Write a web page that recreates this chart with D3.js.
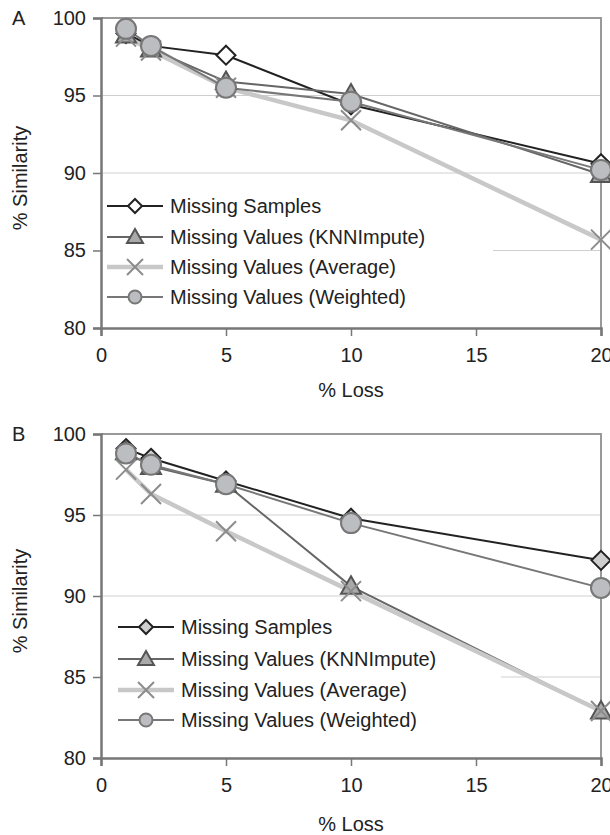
<!DOCTYPE html>
<html>
<head>
<meta charset="utf-8">
<script src="https://cdn.jsdelivr.net/npm/d3@7"></script>
<style>
  body { margin: 0; background: #fff; }
  text { font-family: "Liberation Sans", Arial, sans-serif; fill: #222; }
</style>
</head>
<body>
<div id="chart"></div>
<script>
// % Loss values on the x axis
var loss = [1, 2, 5, 10, 20];
var seriesNames = ["Missing Samples", "Missing Values (KNNImpute)", "Missing Values (Average)", "Missing Values (Weighted)"];
var xTicks = [0, 5, 10, 15, 20];
var yTicks = [80, 85, 90, 95, 100];

// panel A
var aSamples  = [99.0, 98.2, 97.6, 94.4, 90.6];
var aKnn      = [98.9, 98.0, 95.9, 95.1, 89.9];
var aAverage  = [98.8, 97.9, 95.5, 93.4, 85.7];
var aWeighted = [99.3, 98.2, 95.5, 94.6, 90.2];

// panel B
var bSamples  = [99.1, 98.5, 97.1, 94.8, 92.2];
var bKnn      = [98.9, 98.0, 96.9, 90.6, 82.9];
var bAverage  = [97.8, 96.3, 94.0, 90.3, 82.9];
var bWeighted = [98.8, 98.1, 96.9, 94.5, 90.5];

var width = 610, height = 835;
var svg = d3.select("#chart").append("svg").attr("width", width).attr("height", height);

var styles = [
  { line: "#222", lw: 2, marker: "diamond" },
  { line: "#666", lw: 2, marker: "triangle" },
  { line: "#c8c8c8", lw: 4.5, marker: "cross" },
  { line: "#777", lw: 2, marker: "circle" }
];

function drawMarker(g, type, x, y, s, diamondFill) {
  if (type == "diamond") {
    g.append("path")
      .attr("d", `M${x},${y - s}L${x + s},${y}L${x},${y + s}L${x - s},${y}Z`)
      .attr("fill", diamondFill).attr("stroke", "#222").attr("stroke-width", 2);
  } else if (type == "triangle") {
    var h = s * 1.0;
    g.append("path")
      .attr("d", `M${x},${y - h}L${x + s},${y + h * 0.75}L${x - s},${y + h * 0.75}Z`)
      .attr("fill", "#a9a9a9").attr("stroke", "#555").attr("stroke-width", 2);
  } else if (type == "cross") {
    g.append("path")
      .attr("d", `M${x - s},${y - s}L${x + s},${y + s}M${x - s},${y + s}L${x + s},${y - s}`)
      .attr("stroke", "#8c8c8c").attr("stroke-width", 2).attr("fill", "none");
  } else {
    g.append("circle").attr("cx", x).attr("cy", y).attr("r", s)
      .attr("fill", "#bcbdc0").attr("stroke", "#777").attr("stroke-width", 2);
  }
}

function panel(opts) {
  var x = d3.scaleLinear().domain([0, 20]).range([101, 601]);
  var y = d3.scaleLinear().domain([80, 100]).range([opts.bottom, opts.top]);
  var g = svg.append("g");

  // grid
  g.selectAll(".grid").data([85, 90, 95]).enter().append("line")
    .attr("x1", x(0)).attr("x2", x(20))
    .attr("y1", d => y(d)).attr("y2", d => y(d))
    .attr("stroke", "#cfcfcf").attr("stroke-width", 1);

  // frame top + right
  g.append("path")
    .attr("d", `M${x(0)},${y(100)}H${x(20)}V${y(80)}`)
    .attr("fill", "none").attr("stroke", "#999").attr("stroke-width", 2);

  // legend background hides the gridline
  g.append("rect")
    .attr("x", x(0) + 2).attr("y", opts.legendTop)
    .attr("width", opts.legendW).attr("height", opts.legendH)
    .attr("fill", "#fff");

  // axes
  var yAxis = g.append("g").attr("transform", `translate(${x(0)},0)`)
    .call(d3.axisLeft(y).tickValues(yTicks).tickSize(8).tickPadding(7));
  var xAxis = g.append("g").attr("transform", `translate(0,${y(80)})`)
    .call(d3.axisBottom(x).tickValues(xTicks).tickSize(8).tickPadding(12));
  [xAxis, yAxis].forEach(a => {
    a.select(".domain").attr("stroke", "#777").attr("stroke-width", 2.5);
    a.selectAll(".tick line").attr("stroke", "#777").attr("stroke-width", 1.5);
    a.selectAll(".tick text").style("font-size", "20px").attr("fill", "#222");
  });

  // series lines
  var line = d3.line().x((d, i) => x(loss[i])).y(d => y(d));
  opts.data.forEach((vals, k) => {
    g.append("path").datum(vals).attr("d", line)
      .attr("fill", "none").attr("stroke", styles[k].line).attr("stroke-width", styles[k].lw);
  });
  // markers
  var sizes = [9.5, 10, 10, 10];
  opts.data.forEach((vals, k) => {
    vals.forEach((v, i) => drawMarker(g, styles[k].marker, x(loss[i]), y(v), sizes[k], opts.diamondFill));
  });

  // legend
  seriesNames.forEach((name, k) => {
    var ly = opts.legendRows[k];
    g.append("line").attr("x1", opts.legendX).attr("x2", opts.legendX + 56)
      .attr("y1", ly).attr("y2", ly)
      .attr("stroke", styles[k].line).attr("stroke-width", styles[k].lw);
    drawMarker(g, styles[k].marker, opts.legendX + 28, ly, [7, 8, 8, 6.5][k], opts.diamondFill);
    g.append("text").attr("x", opts.legendX + 63).attr("y", ly + 7)
      .style("font-size", "20px").text(name);
  });

  // labels
  g.append("text").attr("x", 12).attr("y", opts.top + 7).style("font-size", "20px").text(opts.label);
  g.append("text").attr("x", x(10)).attr("y", opts.lossY)
    .attr("text-anchor", "middle").style("font-size", "20px").text("% Loss");
  g.append("text")
    .attr("transform", `translate(27,${(opts.top + opts.bottom) / 2 + 5}) rotate(-90)`)
    .attr("text-anchor", "middle").style("font-size", "20px").text("% Similarity");
}

panel({
  label: "A", top: 18, bottom: 328, lossY: 397,
  data: [aSamples, aKnn, aAverage, aWeighted], diamondFill: "#fff",
  legendTop: 192, legendW: 390, legendH: 122, legendX: 107,
  legendRows: [206, 237, 267, 297]
});
panel({
  label: "B", top: 434, bottom: 758, lossY: 831,
  data: [bSamples, bKnn, bAverage, bWeighted], diamondFill: "#cfcfcf",
  legendTop: 612, legendW: 398, legendH: 126, legendX: 118,
  legendRows: [627, 659, 690, 720]
});
</script>
</body>
</html>
